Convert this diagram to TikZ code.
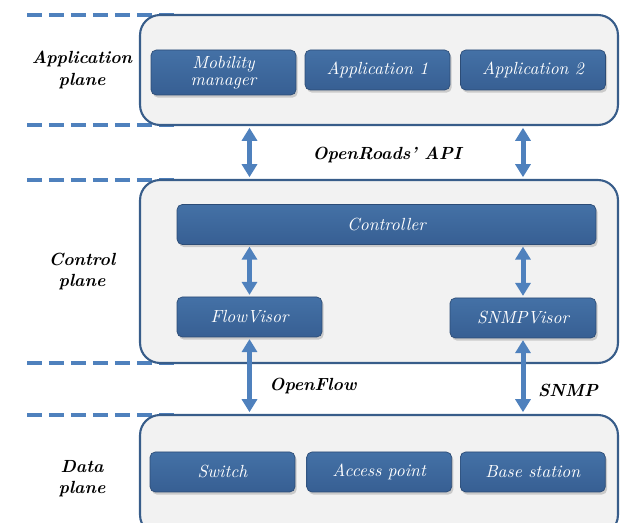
\documentclass[tikz,border=0pt]{standalone}
\usepackage{tikz}
\usetikzlibrary{arrows.meta,positioning,shadows}
\definecolor{planeblue}{HTML}{4F81BD}
\definecolor{panelborder}{HTML}{385D8A}
\definecolor{panelfill}{HTML}{F2F2F2}
\definecolor{boxtop}{HTML}{4471A6}
\definecolor{boxbottom}{HTML}{375F93}

\begin{document}
\begin{tikzpicture}[
    x=0.02cm, y=-0.02cm,
    plane/.style={
    rectangle,
    rounded corners=0.4cm,
    draw=panelborder,
    line width=1.2pt,
    fill=panelfill,
    minimum width=9.56cm},
    block/.style={
    rectangle,
    rounded corners=3pt,
    draw=boxbottom!80!black,
    line width=0.4pt,
    top color=boxtop,
    bottom color=boxbottom,
    drop shadow={shadow xshift=1pt, shadow yshift=-1.5pt, opacity=0.35},
    text=white,
    font=\itshape,
    align=center,
    inner sep=1pt,
    minimum width=2.9cm,
    minimum height=0.8cm},
    level/.style={font=\bfseries\itshape, align=center},
    link/.style={{Triangle[length=0.26cm,width=0.3cm]}-{Triangle[length=0.26cm,width=0.3cm]},
    draw=planeblue, line width=0.1cm, shorten <=1pt, shorten >=1pt},
    guide/.style={draw=planeblue, line width=0.08cm, dash pattern=on 0.3cm off 0.14cm},
    node distance=0.2cm
    ]
    \useasboundingbox (0,0) rectangle (620,523);

    % dashed plane borders
    \foreach \yy in {15,125,180,363,415}
      \draw[guide] (27,\yy) -- (175,\yy);

    % planes
    \node[plane, minimum height=2.2cm] (apppanel) at (379,70) {};
    \node[plane, minimum height=3.66cm] (ctrlpanel) at (379,271.5) {};
    \node[plane, minimum height=2.4cm] (datapanel) at (379,475) {};

    % application plane
    \node[block, minimum height=0.9cm] (mobility) at (223.5,72.5) {Mobility\\[-2pt]manager};
    \node[block] (app1) at (377.5,70) {Application 1};
    \node[block] (app2) at (533,70) {Application 2};

    % control plane
    \node[block, minimum width=8.38cm] (controller) at (386.5,224.5) {Controller};
    \node[block] (flowvisor) at (249.5,317) {FlowVisor};
    \node[block, minimum width=2.92cm] (snmpvisor) at (523,318) {SNMPVisor};

    % data plane
    \node[block] (switch) at (222.5,472) {Switch};
    \node[block, right=0.22cm of switch] (accesspt) {Access point};
    \node[block, right=0.16cm of accesspt] (basestation) {Base station};

    % plane names
    \node[level] (applabel) at (82,70) {Application\\plane};
    \node[level] (ctrllabel) at (82,271.5) {Control\\plane};
    \node[level] (datalabel) at (82,479) {Data\\plane};

    % interfaces
    \draw[link] (flowvisor.north |- apppanel.south) -- (flowvisor.north |- ctrlpanel.north);
    \draw[link] (snmpvisor.north |- apppanel.south) -- (snmpvisor.north |- ctrlpanel.north);
    \draw[link] (controller.south -| flowvisor.north) -- (flowvisor.north);
    \draw[link] (controller.south -| snmpvisor.north) -- (snmpvisor.north);
    \draw[link] (flowvisor.south) -- (flowvisor.south |- datapanel.north);
    \draw[link] (snmpvisor.south) -- (snmpvisor.south |- datapanel.north);

    \node[level] (apilabel) at (387,155) {OpenRoads' API};
    \node[level] (oflabel) at (313,386) {OpenFlow};
    \node[level] (snmplabel) at (568,390) {SNMP};
\end{tikzpicture}
\end{document}
